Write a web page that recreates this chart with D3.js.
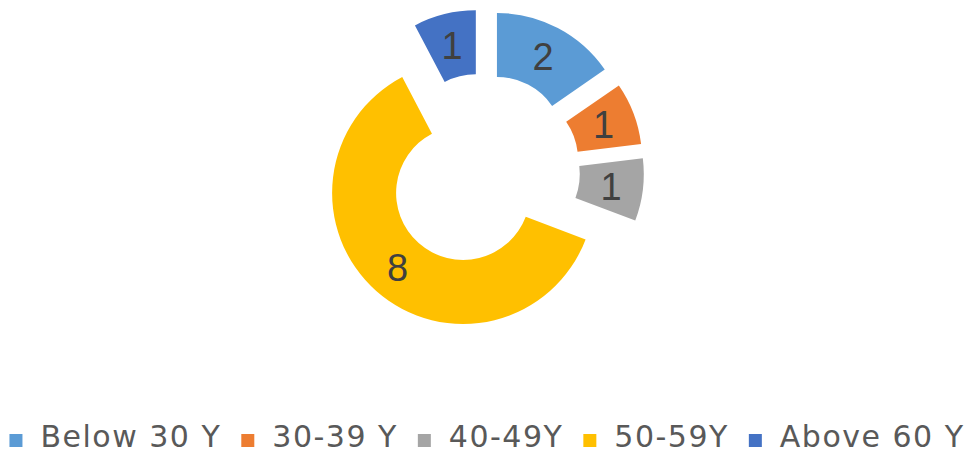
<!DOCTYPE html>
<html>
<head>
<meta charset="utf-8">
<script src="https://cdn.jsdelivr.net/npm/d3@7"></script>
<style>
  html, body { margin: 0; padding: 0; background: #ffffff; }
  svg { display: block; }
</style>
</head>
<body>
<svg id="chart" width="966" height="455"></svg>
<script>
const categories = ["Below 30 Y", "30-39 Y", "40-49Y", "50-59Y", "Above 60 Y"];
const values = [2, 1, 1, 8, 1];
const colors = ["#5B9BD5", "#ED7D31", "#A5A5A5", "#FFC000", "#4472C4"];

const W = 966, H = 455;
const cx = 483, cy = 170.5;
const outerR = 131, innerR = 67, explode = 30;

const svg = d3.select("#chart");
const data = categories.map((c, i) => ({ cat: c, value: values[i], color: colors[i] }));

const pie = d3.pie().sort(null).value(d => d.value).startAngle(0).endAngle(2 * Math.PI);
const arcs = pie(data);
const arc = d3.arc().innerRadius(innerR).outerRadius(outerR);

const g = svg.append("g").attr("transform", `translate(${cx},${cy})`);

const slices = g.selectAll("g.slice").data(arcs).join("g")
  .attr("class", "slice")
  .attr("transform", d => {
    const a = (d.startAngle + d.endAngle) / 2;
    return `translate(${explode * Math.sin(a)},${-explode * Math.cos(a)})`;
  });

slices.append("path")
  .attr("d", arc)
  .attr("fill", d => d.data.color);

slices.append("text")
  .attr("transform", d => `translate(${arc.centroid(d)})`)
  .attr("text-anchor", "middle")
  .attr("dy", "0.36em")
  .attr("font-family", "'Liberation Sans', Arial, sans-serif")
  .attr("font-size", 38)
  .attr("fill", "#404040")
  .text(d => d.data.value);

// Legend
const legend = svg.append("g");
const sq = 13, gapAfterSq = 18, gapAfterText = 20;
const items = legend.selectAll("g.item").data(data).join("g").attr("class", "item");
items.append("rect")
  .attr("width", sq).attr("height", sq)
  .attr("y", 434)
  .attr("fill", d => d.color);
items.append("text")
  .attr("y", 447)
  .attr("font-family", "'DejaVu Sans', sans-serif")
  .attr("font-size", 30)
  .attr("letter-spacing", 1.5)
  .attr("fill", "#595959")
  .text(d => d.cat);

let x = 0;
const positions = [];
items.each(function() {
  const t = d3.select(this).select("text").node().getComputedTextLength();
  positions.push(x);
  x += sq + gapAfterSq + t + gapAfterText;
});
const total = x - gapAfterText;
const start = 487 - total / 2;
items.each(function(d, i) {
  const s = d3.select(this);
  s.select("rect").attr("x", start + positions[i]);
  s.select("text").attr("x", start + positions[i] + sq + gapAfterSq);
});
</script>
</body>
</html>
